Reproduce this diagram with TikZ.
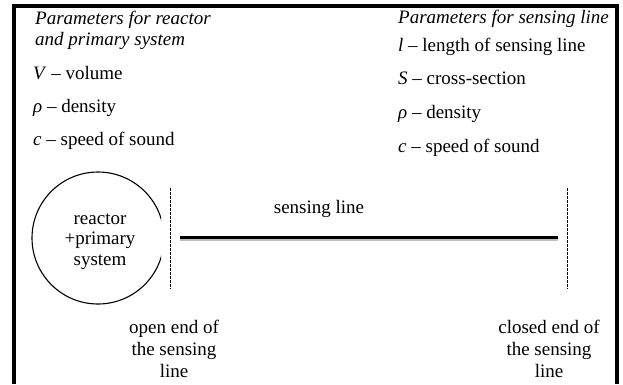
\documentclass[tikz,border=0pt]{standalone}
\usepackage{fontspec}
\setmainfont{Liberation Serif}

\begin{document}
\begin{tikzpicture}[x=1bp, y=-1bp]
  \tikzstyle{every node}=[inner sep=0pt, font=\fontsize{19bp}{22bp}\selectfont]
  \tikzstyle{param}=[anchor=base west]
  \tikzstyle{endlabel}=[align=center, anchor=base]
  \tikzstyle{endmark}=[dash pattern=on 2.5bp off 1.5bp, line width=0.9bp]
  \useasboundingbox (0,0) rectangle (623,384);
  \draw [line width=4bp] (14,384) -- (14,5.5) -- (617,5.5) -- (617,384);
  % parameters for reactor
  \node [param] (reacHeadA) at (35,24) {\textit{Parameters for reactor}};
  \node [param] (reacHeadB) at (35,45) {\textit{and primary system}};
  \node [param] (reacV) at (33,79) {\textit{V} -- volume};
  \node [param] (reacRho) at (33,112) {\textit{ρ} -- density};
  \node [param] (reacC) at (33,145) {\textit{c} -- speed of sound};
  % parameters for sensing line
  \node [param] (lineHead) at (398,23) {\textit{Parameters for sensing line}};
  \node [param] (lineL) at (398,51) {\textit{l} -- length of sensing line};
  \node [param] (lineS) at (398,84) {\textit{S} -- cross-section};
  \node [param] (lineRho) at (398,118) {\textit{ρ} -- density};
  \node [param] (lineC) at (398,152) {\textit{c} -- speed of sound};
  % reactor
  \coordinate (core) at (98,238);
  \node [align=center, anchor=base, font=\fontsize{19bp}{20.5bp}\selectfont] (reactor) at (100,265) {reactor\\+primary\\system};
  \begin{scope}
    \clip (0,0) rectangle (161,384);
    \draw [line width=1.1bp] (core) circle [radius=66];
  \end{scope}
  % ends of the sensing line
  \coordinate (openTop) at (170,188);
  \coordinate (openBot) at (170,289);
  \coordinate (closedTop) at (567,188);
  \coordinate (closedBot) at (567,289);
  \draw [endmark] (openTop) -- (openBot);
  \draw [endmark] (closedTop) -- (closedBot);
  \coordinate (pipeA) at (180,237);
  \coordinate (pipeB) at (558,237);
  \draw [line width=3.5bp, black!25] ([yshift=-1.8bp]pipeA) -- ([yshift=-1.8bp]pipeB);
  \draw [line width=3bp] (pipeA) -- (pipeB);
  \node [anchor=base] (pipeLabel) at (319,213) {sensing line};
  \node [endlabel] (openLabel) at (174,377) {open end of\\the sensing\\line};
  \node [endlabel] (closedLabel) at (549,377) {closed end of\\the sensing\\line};
\end{tikzpicture}
\end{document}
